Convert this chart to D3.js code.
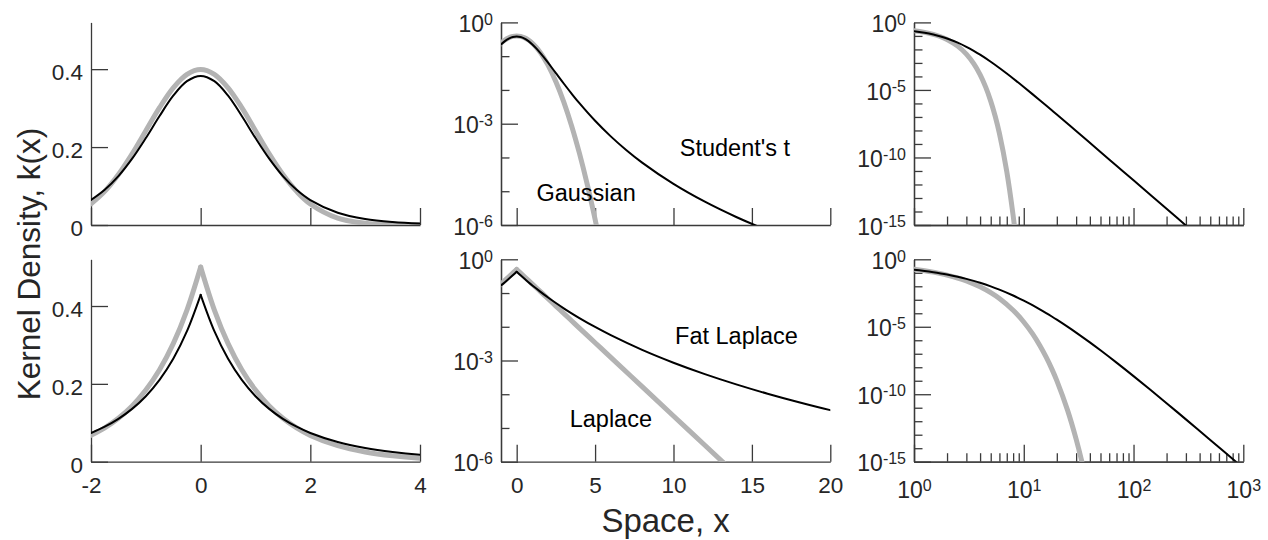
<!DOCTYPE html>
<html>
<head>
<meta charset="utf-8">
<script src="https://cdn.jsdelivr.net/npm/d3@7"></script>
<style>
  body { margin: 0; background: #fff; }
  svg { display: block; font-family: "Liberation Sans", Arial, Helvetica, sans-serif; }
</style>
</head>
<body>
<svg id="chart" width="1268" height="540"></svg>
<script>
// ---- Kernel densities k(x), sampled at the listed positions x ----
// Gaussian (standard normal)
const gaussX = [-2, -1.75, -1.5, -1.25, -1, -0.75, -0.5, -0.25, 0, 0.25, 0.5, 0.75, 1, 1.25, 1.5, 1.75, 2,
  2.5, 3, 3.5, 4, 4.5, 5, 5.5, 6, 7, 8, 8.5, 9];
const gaussK = [0.05399, 0.08628, 0.12952, 0.18265, 0.24197, 0.30114, 0.35207, 0.38667, 0.39894,
  0.38667, 0.35207, 0.30114, 0.24197, 0.18265, 0.12952, 0.08628, 0.05399,
  0.017528, 0.0044318, 8.727e-4, 1.3383e-4, 1.5984e-5, 1.4867e-6, 1.077e-7, 6.076e-9,
  9.135e-12, 5.052e-15, 8.17e-17, 1.028e-18];

// Student's t
const studentX = [-2, -1.75, -1.5, -1.25, -1, -0.75, -0.5, -0.25, 0, 0.25, 0.5, 0.75, 1, 1.25, 1.5, 1.75, 2,
  2.5, 3, 3.5, 4, 5, 6, 7, 8, 10, 12, 14, 16, 18, 20, 30, 50, 70, 100, 200, 300, 500];
const studentK = [0.064036, 0.090377, 0.12556, 0.17025, 0.22314, 0.27969, 0.33178, 0.36910, 0.38273,
  0.36910, 0.33178, 0.27969, 0.22314, 0.17025, 0.12556, 0.090377, 0.064036,
  0.031473, 0.015492, 0.0077985, 0.0040546, 0.0012208, 4.2176e-4, 1.6411e-4, 7.0565e-5,
  1.6514e-5, 4.8989e-6, 1.7287e-6, 6.956e-7, 3.1019e-7, 1.5017e-7, 9.0463e-9, 2.5702e-10,
  2.4483e-11, 2.0207e-12, 1.5812e-14, 9.257e-16, 2.5918e-17];

// Laplace
const laplaceX = [-2, -1.75, -1.5, -1.25, -1, -0.75, -0.5, -0.25, 0, 0.25, 0.5, 0.75, 1, 1.25, 1.5, 1.75, 2,
  2.5, 3, 3.5, 4, 5, 6, 8, 10, 12, 14, 16, 18, 20, 25, 30, 35, 40];
const laplaceK = [0.067668, 0.086887, 0.111565, 0.143252, 0.18394, 0.236183, 0.303265, 0.3894, 0.5,
  0.3894, 0.303265, 0.236183, 0.18394, 0.143252, 0.111565, 0.086887, 0.067668,
  0.041042, 0.024894, 0.015099, 0.0091578, 0.003369, 0.0012394, 1.67731e-4, 2.26999e-5,
  3.07211e-6, 4.15765e-7, 5.62675e-8, 7.615e-9, 1.03058e-9, 6.94397e-12, 4.67881e-14,
  3.15256e-16, 2.12418e-18];

// Fat Laplace
const fatLaplaceX = [-2, -1.75, -1.5, -1.25, -1, -0.75, -0.5, -0.25, 0, 0.25, 0.5, 0.75, 1, 1.25, 1.5, 1.75, 2,
  2.5, 3, 3.5, 4, 5, 6, 8, 10, 12, 14, 16, 18, 20, 25, 30, 40, 50, 70, 100, 200, 300, 500, 700, 1000];
const fatLaplaceK = [0.073792, 0.089878, 0.110097, 0.135685, 0.168298, 0.210183, 0.264411, 0.335232, 0.428571,
  0.335232, 0.264411, 0.210183, 0.168298, 0.135685, 0.110097, 0.089878, 0.073792,
  0.050541, 0.035295, 0.025083, 0.018112, 0.0098503, 0.005625, 0.0020657, 8.6014e-4,
  3.9485e-4, 1.95963e-4, 1.03661e-4, 5.7827e-5, 3.3741e-5, 1.02721e-5, 3.71789e-6,
  6.96694e-7, 1.80545e-7, 2.19925e-8, 2.19798e-9, 2.16729e-11, 1.37321e-12, 4.09877e-14,
  3.99746e-15, 3.36128e-16];

// ---- Tick values ----
const linXTicks = [-2, 0, 2, 4];
const linYTicks = [0, 0.2, 0.4];
const semilogXTicks = [0, 5, 10, 15, 20];
const semilogYExps = [-6, -3, 0];
const loglogXExps = [0, 1, 2, 3];
const loglogYExps = [-15, -10, -5, 0];

// ---- Curve names written inside the semilog panels ----
const curveLabels = ["Gaussian", "Student's t", "Laplace", "Fat Laplace"];

// ---- Layout ----
const colRange = [[91, 420], [501, 830.3], [914, 1243.3]];
const rowRange = [[225, 22.4], [461.7, 259.3]];
const axisColor = "#3a3a3a";
const textColor = "#262626";
const majorTick = 17, minorTick = 8.5;

const thin = { color: "#000000", width: 2 };
const thick = { color: "#b3b3b3", width: 5 };

const kernels = {
  gauss:   { x: gaussX, k: gaussK, style: thick, cusp: false },
  student: { x: studentX, k: studentK, style: thin, cusp: false },
  laplace: { x: laplaceX, k: laplaceK, style: thick, cusp: true },
  fat:     { x: fatLaplaceX, k: fatLaplaceK, style: thin, cusp: true }
};

// label anchors in data coordinates of their panel (text start, baseline)
const labelAnchors = [
  { row: 0, at: [1.26, Math.pow(10, -5.29)] },
  { row: 0, at: [10.4, Math.pow(10, -3.97)] },
  { row: 1, at: [3.38, Math.pow(10, -4.98)] },
  { row: 1, at: [10.1, Math.pow(10, -2.51)] }
];

const panels = [];
[["gauss", "student"], ["laplace", "fat"]].forEach((pair, row) => {
  ["lin", "semilog", "loglog"].forEach((type, col) => panels.push({ row, col, type, pair }));
});

const svg = d3.select("#chart");
const defs = svg.append("defs");

function supLabel(sel, exp) {
  sel.text(null).attr("font-size", 23);
  sel.append("tspan").text("10");
  sel.append("tspan").attr("dy", -7.5).attr("font-size", 16).text(String(exp));
}

function styleAxis(g) {
  g.select(".domain").attr("stroke", axisColor).attr("stroke-width", 1.3);
  g.selectAll(".tick line").attr("stroke", axisColor).attr("stroke-width", 1.3);
  g.selectAll(".tick text").attr("fill", textColor).attr("font-size", 22.5)
    .attr("font-family", "Liberation Sans, Arial, sans-serif");
}

panels.forEach(p => {
  const [x0, x1] = colRange[p.col];
  const [yb, yt] = rowRange[p.row];
  const bottomRow = p.row === 1;
  let x, y;
  if (p.type === "lin") {
    x = d3.scaleLinear().domain([-2, 4]).range([x0, x1]);
    y = d3.scaleLinear().domain([0, 0.52]).range([yb, yt]);
  } else if (p.type === "semilog") {
    x = d3.scaleLinear().domain([-1, 20]).range([x0, x1]);
    y = d3.scaleLog().domain([1e-6, 1]).range([yb, yt]);
  } else {
    x = d3.scaleLog().domain([1, 1000]).range([x0, x1]);
    y = d3.scaleLog().domain([1e-15, 1]).range([yb, yt]);
  }

  const g = svg.append("g");

  // ---- axes ----
  const gy = g.append("g").attr("transform", `translate(${x0},0)`);
  const gx = g.append("g").attr("transform", `translate(0,${yb})`);

  if (p.type === "lin") {
    gy.call(d3.axisLeft(y).tickValues(linYTicks).tickSize(-majorTick).tickSizeOuter(0)
      .tickPadding(8).tickFormat(d => String(d)));
    styleAxis(gy);
    gy.selectAll(".tick text").attr("dy", "0.48em");

    gx.call(d3.axisBottom(x).tickValues(linXTicks).tickSize(-majorTick).tickSizeOuter(0)
      .tickFormat(d => bottomRow ? String(d) : ""));
    styleAxis(gx);
    gx.selectAll(".tick text").attr("y", 31).attr("dy", null);
  } else if (p.type === "semilog") {
    const major = semilogYExps.map(e => Math.pow(10, e));
    const minor = d3.range(semilogYExps[0], 1).map(e => Math.pow(10, e)).filter(v => !major.includes(v));
    gy.call(d3.axisLeft(y).tickValues(minor).tickSize(-minorTick).tickSizeOuter(0).tickFormat(""));
    styleAxis(gy);
    const gyM = g.append("g").attr("transform", `translate(${x0},0)`);
    gyM.call(d3.axisLeft(y).tickValues(major).tickSize(-majorTick).tickSizeOuter(0).tickPadding(8));
    styleAxis(gyM);
    gyM.selectAll(".tick text").attr("dy", "0.4em").each(function (d) {
      supLabel(d3.select(this), Math.round(Math.log10(d)));
    });

    gx.call(d3.axisBottom(x).tickValues(semilogXTicks).tickSize(-majorTick).tickSizeOuter(0)
      .tickFormat(d => bottomRow ? String(d) : ""));
    styleAxis(gx);
    gx.selectAll(".tick text").attr("y", 31).attr("dy", null);
  } else {
    const majorY = loglogYExps.map(e => Math.pow(10, e));
    const minorY = d3.range(loglogYExps[0], 1).map(e => Math.pow(10, e))
      .filter(v => !majorY.some(m => Math.abs(Math.log10(m) - Math.log10(v)) < 1e-9));
    gy.call(d3.axisLeft(y).tickValues(minorY).tickSize(-minorTick).tickSizeOuter(0).tickFormat(""));
    styleAxis(gy);
    const gyM = g.append("g").attr("transform", `translate(${x0},0)`);
    gyM.call(d3.axisLeft(y).tickValues(majorY).tickSize(-majorTick).tickSizeOuter(0).tickPadding(8));
    styleAxis(gyM);
    gyM.selectAll(".tick text").attr("dy", "0.4em").each(function (d) {
      supLabel(d3.select(this), Math.round(Math.log10(d)));
    });

    const majorX = loglogXExps.map(e => Math.pow(10, e));
    const minorX = x.ticks().filter(v => !majorX.some(m => Math.abs(m - v) < 1e-9));
    gx.call(d3.axisBottom(x).tickValues(minorX).tickSize(-minorTick).tickSizeOuter(0).tickFormat(""));
    styleAxis(gx);
    const gxM = g.append("g").attr("transform", `translate(0,${yb})`);
    gxM.call(d3.axisBottom(x).tickValues(majorX).tickSize(-majorTick).tickSizeOuter(0));
    styleAxis(gxM);
    gxM.selectAll(".tick text").attr("y", 36.5).attr("dy", null).each(function (d) {
      if (bottomRow) supLabel(d3.select(this), Math.round(Math.log10(d)));
      else d3.select(this).text("");
    });
  }

  // ---- curves ----
  const clipId = `clip-${p.row}-${p.col}`;
  defs.append("clipPath").attr("id", clipId).append("rect")
    .attr("x", x0).attr("y", yt).attr("width", x1 - x0).attr("height", yb - yt);

  const curves = g.append("g").attr("clip-path", `url(#${clipId})`);
  const line = d3.line()
    .x(d => x(d[0]))
    .y(d => y(d[1]))
    .curve(d3.curveCatmullRom.alpha(0.5));

  const logX = p.type === "loglog";
  p.pair.forEach(name => {
    const kern = kernels[name];
    let pts = d3.zip(kern.x, kern.k);
    if (logX) pts = pts.filter(d => d[0] > 0);
    const segments = kern.cusp ? [pts.filter(d => d[0] <= 0), pts.filter(d => d[0] >= 0)] : [pts];
    segments.filter(s => s.length > 1).forEach(s => {
      curves.append("path")
        .attr("d", line(s))
        .attr("fill", "none")
        .attr("stroke", kern.style.color)
        .attr("stroke-width", kern.style.width)
        .attr("stroke-linejoin", "round")
        .attr("stroke-linecap", "round");
    });
  });

  // ---- curve names ----
  if (p.type === "semilog") {
    labelAnchors.forEach((a, i) => {
      if (a.row !== p.row) return;
      g.append("text")
        .attr("x", x(a.at[0]))
        .attr("y", y(a.at[1]))
        .attr("font-size", 23.5)
        .attr("fill", "#000")
        .text(curveLabels[i]);
    });
  }
});

// ---- shared axis titles ----
svg.append("text")
  .attr("transform", "translate(40,264) rotate(-90)")
  .attr("text-anchor", "middle")
  .attr("font-size", 31.5)
  .attr("fill", textColor)
  .text("Kernel Density, k(x)");

svg.append("text")
  .attr("x", 665.6)
  .attr("y", 532)
  .attr("text-anchor", "middle")
  .attr("font-size", 33)
  .attr("fill", textColor)
  .text("Space, x");
</script>
</body>
</html>
